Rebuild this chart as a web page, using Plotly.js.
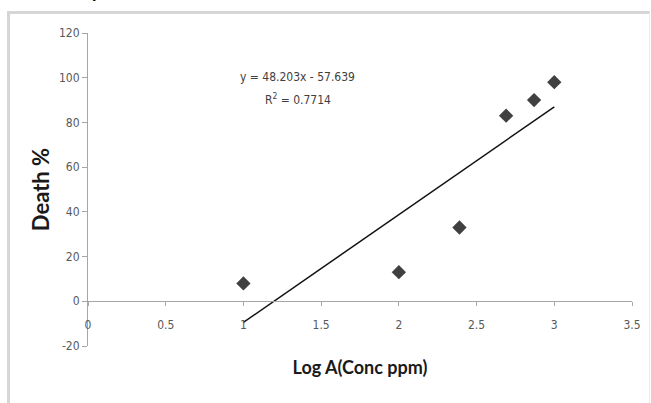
<!DOCTYPE html>
<html>
<head>
<meta charset="utf-8">
<script src="https://cdn.plot.ly/plotly-3.0.1.min.js"></script>
<style>
  html, body { margin: 0; padding: 0; background: #ffffff; overflow: hidden; }
  #wrap { position: relative; width: 651px; height: 403px; }
  #chart { position: absolute; left: 0; top: 0; width: 651px; height: 403px; }
  #frame { position: absolute; left: 7px; top: 11px; width: 639px; height: 420px;
           border-left: 3px solid #d6d6d6; border-top: 3px solid #d6d6d6; border-right: 1px solid #ececec;
           pointer-events: none; }
</style>
</head>
<body>
<div id="wrap">
  <div id="chart"></div>
  <div id="frame"></div>
</div>
<script>
// Data
const logConc = [1, 2, 2.39, 2.69, 2.87, 3];
const deathPct = [8, 13, 33, 83, 90, 98];
// Linear trendline end points (y = 48.203x - 57.639 at x = 1 and x = 3)
const trendX = [1, 3];
const trendY = [-9.44, 86.97];
// Tick labels as printed in the reference
const yTickVals = [-20, 0, 20, 40, 60, 80, 100, 120];
const yTickText = ["-20", "0", "20", "40", "60", "80", "100", "120"];
const xTickVals = [0, 0.5, 1, 1.5, 2, 2.5, 3, 3.5];
const xTickText = ["0", "0.5", "1", "1.5", "2", "2.5", "3", "3.5"];
const equationText = "y = 48.203x - 57.639";
const r2Text = "R<sup>2</sup> = 0.7714";
const xTitle = "Log A(Conc ppm)";
const yTitle = "Death %";

const narrow = "DejaVu Sans Condensed, sans-serif";
const tickFont = { family: narrow, size: 12, color: "#595959" };

const traces = [
  {
    x: logConc, y: deathPct, type: "scatter", mode: "markers",
    marker: { symbol: "diamond", size: 11, color: "#404040" },
    hoverinfo: "skip", showlegend: false
  },
  {
    x: trendX, y: trendY, type: "scatter", mode: "lines",
    line: { color: "#111111", width: 1.5 },
    hoverinfo: "skip", showlegend: false
  }
];

const layout = {
  width: 651, height: 403,
  margin: { l: 88, r: 19, t: 33, b: 57 },
  paper_bgcolor: "rgba(0,0,0,0)",
  plot_bgcolor: "rgba(0,0,0,0)",
  showlegend: false,
  xaxis: {
    range: [0, 3.5], tickmode: "array", tickvals: xTickVals, ticktext: xTickText,
    anchor: "free", position: 20 / 140,
    showline: true, linecolor: "#a6a6a6", linewidth: 1,
    ticks: "outside", ticklen: 4, tickcolor: "#a6a6a6",
    showgrid: false, zeroline: false,
    tickfont: tickFont, ticklabelstandoff: 8,
    title: { text: xTitle, font: { family: "Lato, sans-serif", size: 18, color: "#1a1a1a", weight: "bold" }, standoff: 30 }
  },
  yaxis: {
    range: [-20, 120], tickmode: "array", tickvals: yTickVals, ticktext: yTickText,
    showline: true, linecolor: "#a6a6a6", linewidth: 1,
    ticks: "outside", ticklen: 5, tickcolor: "#a6a6a6",
    showgrid: false, zeroline: false,
    tickfont: tickFont,
    title: { text: yTitle, font: { family: "Lato, sans-serif", size: 22, color: "#1a1a1a", weight: "bold" }, standoff: 3 }
  },
  annotations: [
    { xref: "x", yref: "y", x: 1.35, y: 100.5, text: equationText, showarrow: false,
      font: { family: narrow, size: 12, color: "#404040" } },
    { xref: "x", yref: "y", x: 1.35, y: 90.5, text: r2Text, showarrow: false,
      font: { family: narrow, size: 12, color: "#404040" } },
    { xref: "paper", yref: "paper", x: 9.5 / 544.5, y: (346 - 4) / 313, xanchor: "center", yanchor: "bottom",
      text: "p", showarrow: false, font: { family: "Lato, sans-serif", size: 18, color: "#000000", weight: "bold" } }
  ]
};

Plotly.newPlot("chart", traces, layout, { staticPlot: true, displayModeBar: false });
</script>
</body>
</html>
